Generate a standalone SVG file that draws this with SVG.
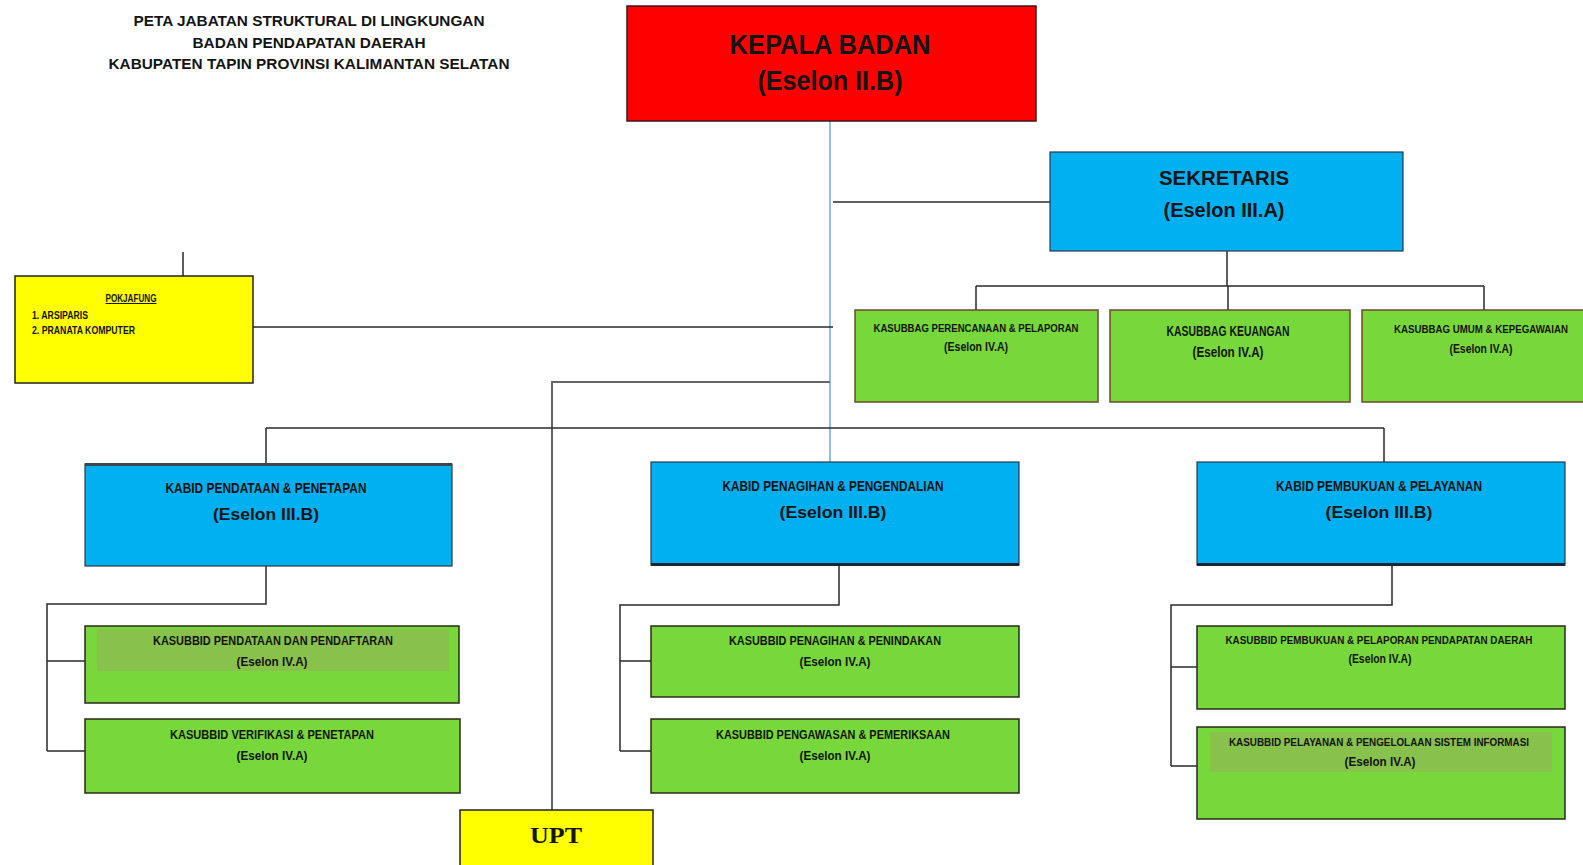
<svg xmlns="http://www.w3.org/2000/svg" width="1583" height="865" viewBox="0 0 1583 865">
<style>
text{font-family:"Liberation Sans Narrow","Liberation Sans",Arial,sans-serif;font-weight:bold;fill:#141414;text-anchor:middle}
.red{fill:#ff0000;stroke:#3a1a1a;stroke-width:1.5}
.blue{fill:#00b0f0;stroke:#2a3a4a;stroke-width:1.2}
.green{fill:#78d73a;stroke:#2a2a1a;stroke-width:1.5}
.greenb{fill:#78d73a;stroke:#6b4a2a;stroke-width:1.5}
.yellow{fill:#ffff00;stroke:#222;stroke-width:1.5}
.band{fill:#8dbb52;opacity:0.8}
.ln{fill:none;stroke:#2a2a2a;stroke-width:1.5}
.lb{fill:none;stroke:#6fa8dc;stroke-width:1.5}
.lg{fill:none;stroke:#666;stroke-width:2}
.t1{font-size:15px}
.s{font-size:12px}
.x{font-size:10px}
.m{font-size:15px}
.e{font-size:17px}
</style>

<g id="title">
<text class="t1" x="309" y="26" textLength="351" lengthAdjust="spacingAndGlyphs">PETA JABATAN STRUKTURAL DI LINGKUNGAN</text>
<text class="t1" x="309" y="48" textLength="233" lengthAdjust="spacingAndGlyphs">BADAN PENDAPATAN DAERAH</text>
<text class="t1" x="309" y="69" textLength="401" lengthAdjust="spacingAndGlyphs">KABUPATEN TAPIN PROVINSI KALIMANTAN SELATAN</text>
</g>

<g id="connectors">
<path class="lb" d="M830 121 V462"/>
<path class="ln" d="M833 202 H1050"/>
<path class="ln" d="M1227 251 V286 M976 286 H1484 M976 286 V310 M1228 286 V310 M1484 286 V310"/>
<path class="ln" d="M183 252 V276 M253 327 H833"/>
<path class="lg" d="M830 382 H552 V810"/>
<path class="ln" d="M266 428 H1384 M266 428 V464 M1384 428 V462"/>
<path class="ln" d="M266 566 V604 H47 V751 M47 661 H85 M47 751 H85"/>
<path class="ln" d="M839 565 V605 H620 V751 M620 661 H651 M620 751 H651"/>
<path class="ln" d="M1392 565 V605 H1171 V766 M1171 667 H1197 M1171 766 H1197"/>
</g>

<g id="kepala">
<rect class="red" x="627" y="6" width="409" height="115"/>
<text x="830" y="54" style="font-size:27px" textLength="201" lengthAdjust="spacingAndGlyphs">KEPALA BADAN</text>
<text x="830" y="90" style="font-size:27px" textLength="145" lengthAdjust="spacingAndGlyphs">(Eselon II.B)</text>
</g>

<g id="sekretaris">
<rect class="blue" x="1050" y="152" width="353" height="99"/>
<text x="1224" y="185" style="font-size:20px" textLength="130" lengthAdjust="spacingAndGlyphs">SEKRETARIS</text>
<text x="1224" y="217" style="font-size:20px" textLength="121" lengthAdjust="spacingAndGlyphs">(Eselon III.A)</text>
</g>

<g id="kasubbag-perencanaan">
<rect class="greenb" x="855" y="310" width="243" height="92"/>
<text class="x" x="976" y="332" textLength="205" lengthAdjust="spacingAndGlyphs">KASUBBAG PERENCANAAN &amp; PELAPORAN</text>
<text class="s" x="976" y="351" textLength="64" lengthAdjust="spacingAndGlyphs">(Eselon IV.A)</text>
</g>
<g id="kasubbag-keuangan">
<rect class="greenb" x="1110" y="310" width="240" height="92"/>
<text x="1228" y="336" style="font-size:14px" textLength="123" lengthAdjust="spacingAndGlyphs">KASUBBAG KEUANGAN</text>
<text x="1228" y="357" style="font-size:14px" textLength="71" lengthAdjust="spacingAndGlyphs">(Eselon IV.A)</text>
</g>
<g id="kasubbag-umum">
<rect class="greenb" x="1362" y="310" width="224" height="92"/>
<text class="x" x="1481" y="333" textLength="174" lengthAdjust="spacingAndGlyphs">KASUBBAG UMUM &amp; KEPEGAWAIAN</text>
<text class="s" x="1481" y="353" textLength="63" lengthAdjust="spacingAndGlyphs">(Eselon IV.A)</text>
</g>

<g id="pokjafung">
<rect class="yellow" x="15" y="276" width="238" height="107"/>
<text x="131" y="302" style="font-size:10px;text-decoration:underline" textLength="51" lengthAdjust="spacingAndGlyphs">POKJAFUNG</text>
<text x="32" y="319" style="font-size:10px;text-anchor:start" textLength="56" lengthAdjust="spacingAndGlyphs">1. ARSIPARIS</text>
<text x="32" y="334" style="font-size:10px;text-anchor:start" textLength="103" lengthAdjust="spacingAndGlyphs">2. PRANATA KOMPUTER</text>
</g>

<g id="kabid-pendataan">
<rect class="blue" x="85" y="464" width="367" height="102"/>
<path d="M85 464.5 H452" stroke="#3a4650" stroke-width="3"/>
<text class="m" x="266" y="493" textLength="201" lengthAdjust="spacingAndGlyphs">KABID PENDATAAN &amp; PENETAPAN</text>
<text class="e" x="266" y="520" textLength="106" lengthAdjust="spacingAndGlyphs">(Eselon III.B)</text>
</g>
<g id="kabid-penagihan">
<rect class="blue" x="651" y="462" width="368" height="103"/>
<path d="M651 564.5 H1019" stroke="#1a2530" stroke-width="3"/>
<text class="m" x="833" y="491" textLength="221" lengthAdjust="spacingAndGlyphs">KABID PENAGIHAN &amp; PENGENDALIAN</text>
<text class="e" x="833" y="518" textLength="107" lengthAdjust="spacingAndGlyphs">(Eselon III.B)</text>
</g>
<g id="kabid-pembukuan">
<rect class="blue" x="1197" y="462" width="368" height="103"/>
<path d="M1197 564.5 H1565" stroke="#1a2530" stroke-width="3"/>
<text class="m" x="1379" y="491" textLength="206" lengthAdjust="spacingAndGlyphs">KABID PEMBUKUAN &amp; PELAYANAN</text>
<text class="e" x="1379" y="518" textLength="107" lengthAdjust="spacingAndGlyphs">(Eselon III.B)</text>
</g>

<g id="kasubbid-pendataan">
<rect class="green" x="85" y="626" width="374" height="77"/>
<rect class="band" x="97" y="629" width="352" height="42"/>
<text class="s" x="273" y="645" textLength="240" lengthAdjust="spacingAndGlyphs">KASUBBID PENDATAAN DAN PENDAFTARAN</text>
<text class="s" x="272" y="666" textLength="71" lengthAdjust="spacingAndGlyphs">(Eselon IV.A)</text>
</g>
<g id="kasubbid-verifikasi">
<rect class="green" x="85" y="719" width="375" height="74"/>
<text class="s" x="272" y="739" textLength="204" lengthAdjust="spacingAndGlyphs">KASUBBID VERIFIKASI &amp; PENETAPAN</text>
<text class="s" x="272" y="760" textLength="71" lengthAdjust="spacingAndGlyphs">(Eselon IV.A)</text>
</g>
<g id="kasubbid-penagihan">
<rect class="green" x="651" y="626" width="368" height="71"/>
<text class="s" x="835" y="645" textLength="212" lengthAdjust="spacingAndGlyphs">KASUBBID PENAGIHAN &amp; PENINDAKAN</text>
<text class="s" x="835" y="666" textLength="71" lengthAdjust="spacingAndGlyphs">(Eselon IV.A)</text>
</g>
<g id="kasubbid-pengawasan">
<rect class="green" x="651" y="719" width="368" height="74"/>
<text class="s" x="833" y="739" textLength="234" lengthAdjust="spacingAndGlyphs">KASUBBID PENGAWASAN &amp; PEMERIKSAAN</text>
<text class="s" x="835" y="760" textLength="71" lengthAdjust="spacingAndGlyphs">(Eselon IV.A)</text>
</g>
<g id="kasubbid-pembukuan">
<rect class="green" x="1197" y="626" width="368" height="83"/>
<text class="x" x="1379" y="644" textLength="307" lengthAdjust="spacingAndGlyphs">KASUBBID PEMBUKUAN &amp; PELAPORAN PENDAPATAN DAERAH</text>
<text class="s" x="1380" y="663" textLength="63" lengthAdjust="spacingAndGlyphs">(Eselon IV.A)</text>
</g>
<g id="kasubbid-pelayanan">
<rect class="green" x="1197" y="727" width="368" height="92"/>
<rect class="band" x="1210" y="732" width="342" height="40"/>
<text class="x" x="1379" y="746" textLength="300" lengthAdjust="spacingAndGlyphs">KASUBBID PELAYANAN &amp; PENGELOLAAN SISTEM INFORMASI</text>
<text class="s" x="1380" y="766" textLength="71" lengthAdjust="spacingAndGlyphs">(Eselon IV.A)</text>
</g>

<g id="upt">
<rect class="yellow" x="460" y="810" width="193" height="62"/>
<text x="556" y="843" style="font-family:'Liberation Serif','Times New Roman',serif;font-size:24px" textLength="52" lengthAdjust="spacingAndGlyphs">UPT</text>
</g>
</svg>
